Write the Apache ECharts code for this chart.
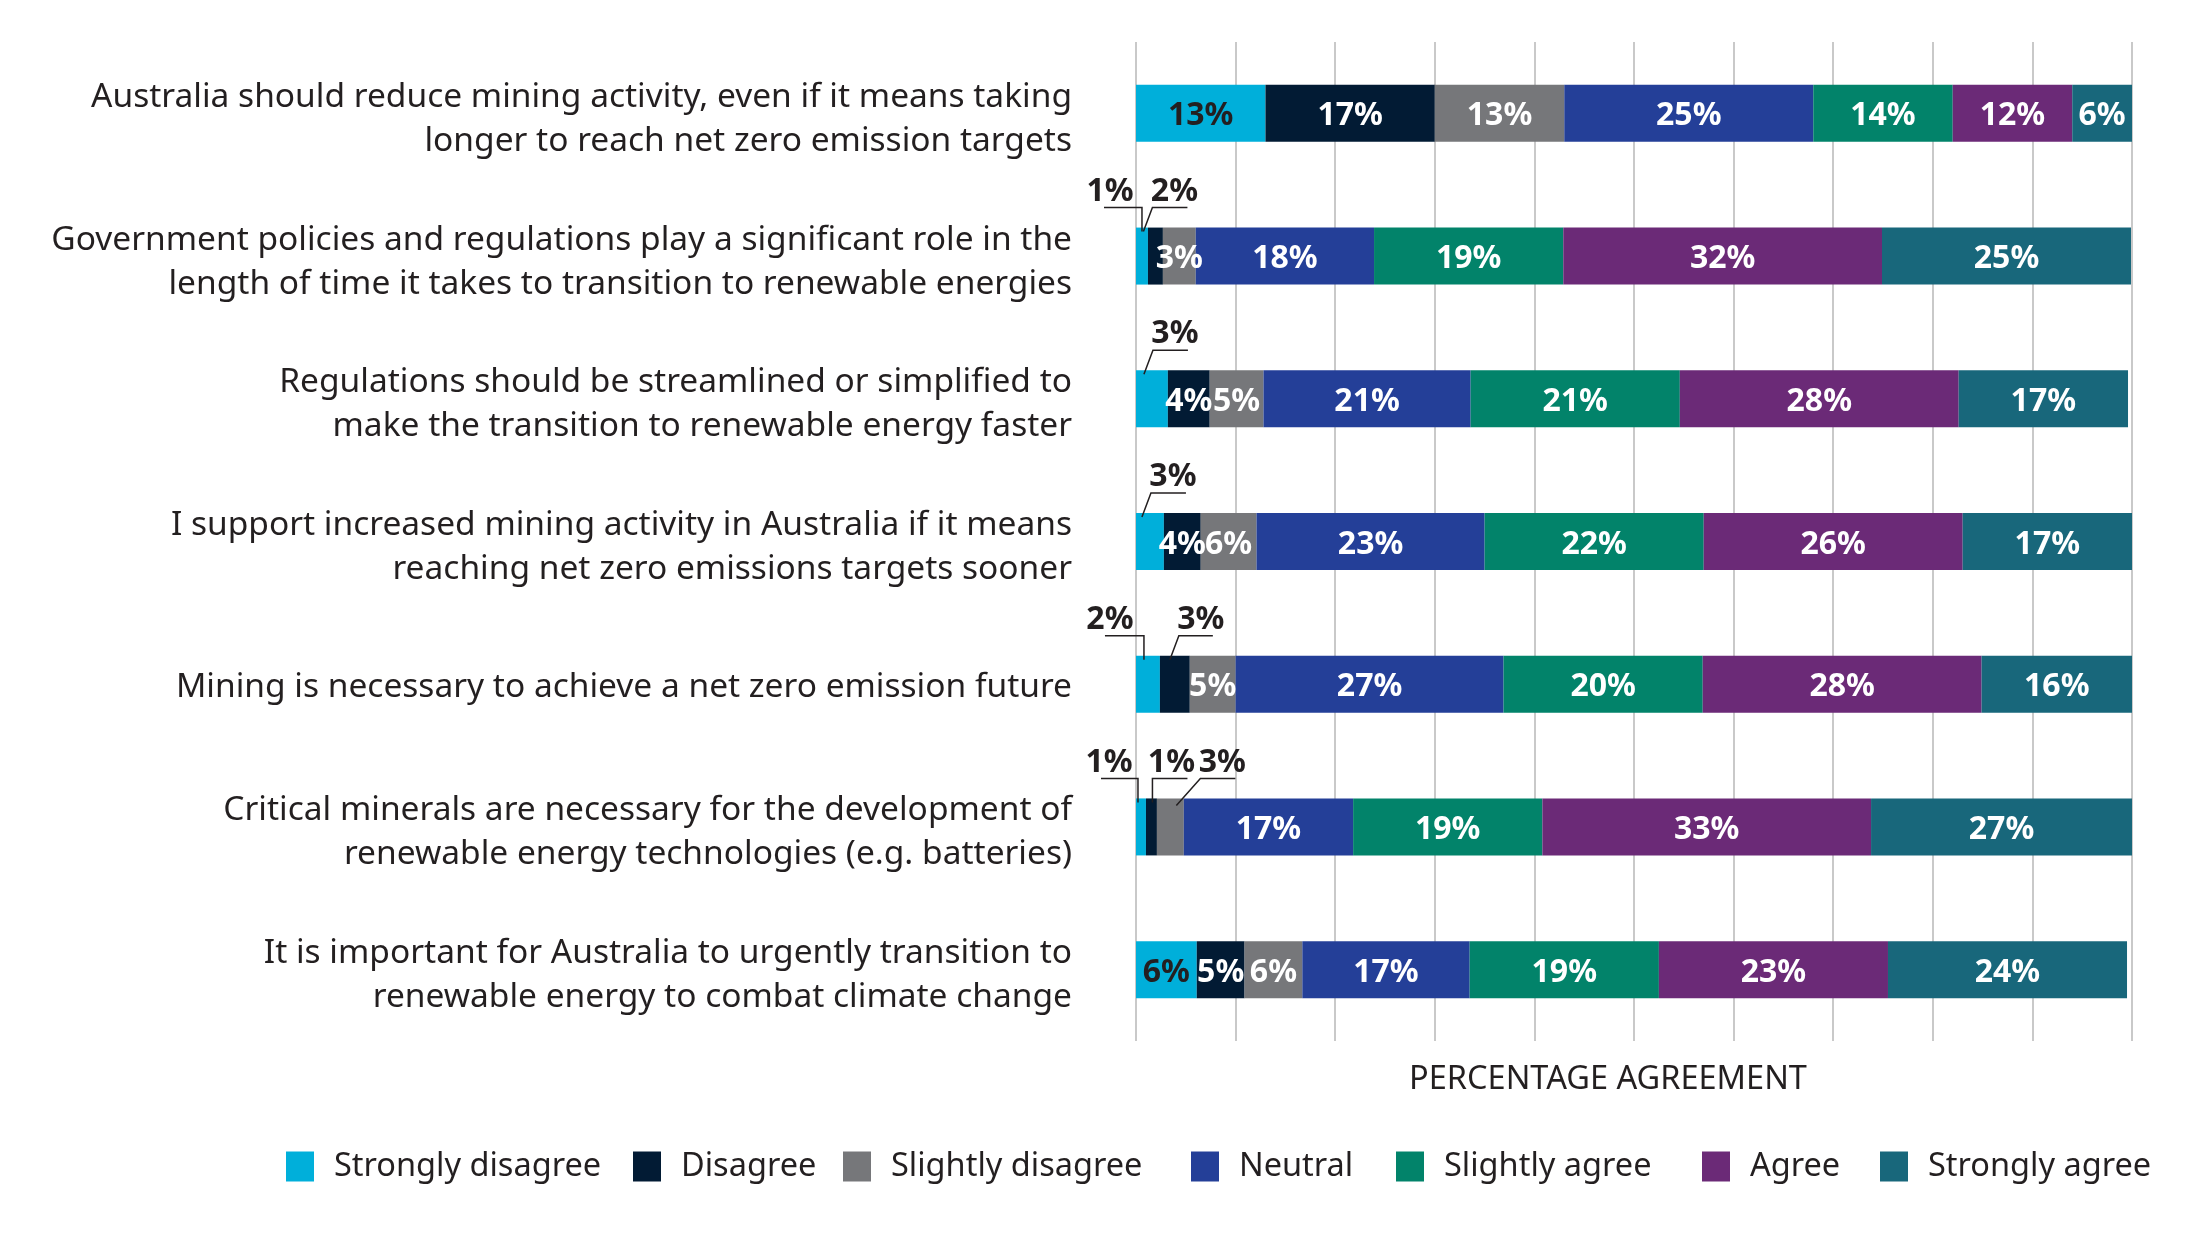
<!DOCTYPE html>
<html>
<head>
<meta charset="utf-8">
<script src="https://cdn.jsdelivr.net/npm/echarts@6/dist/echarts.min.js"></script>
<style>
  html, body { margin: 0; padding: 0; background: #fff; }
  #main { width: 2210px; height: 1233px; }
</style>
</head>
<body>
<div id="main"></div>
<script>
// statements, top to bottom
const categories = [
  'Australia should reduce mining activity, even if it means taking\nlonger to reach net zero emission targets',
  'Government policies and regulations play a significant role in the\nlength of time it takes to transition to renewable energies',
  'Regulations should be streamlined or simplified to\nmake the transition to renewable energy faster',
  'I support increased mining activity in Australia if it means\nreaching net zero emissions targets sooner',
  'Mining is necessary to achieve a net zero emission future',
  'Critical minerals are necessary for the development of\nrenewable energy technologies (e.g. batteries)',
  'It is important for Australia to urgently transition to\nrenewable energy to combat climate change'
]

const seriesNames = ['Strongly disagree', 'Disagree', 'Slightly disagree', 'Neutral', 'Slightly agree', 'Agree', 'Strongly agree']

// % per statement (bar lengths, labels are rounded)
const stronglyDisagree = [13, 1.2, 3.2, 2.8, 2.4, 1.0, 6.1]
const disagree         = [17, 1.5, 4.2, 3.7, 3.0, 1.1, 4.8]
const slightlyDisagree = [13, 3.3, 5.4, 5.6, 4.6, 2.7, 5.8]
const neutral          = [25, 17.9, 20.8, 22.9, 26.9, 17, 16.8]
const slightlyAgree    = [14, 19, 21, 22, 20, 19, 19]
const agree            = [12, 32, 28, 26, 28, 33, 23]
const stronglyAgree    = [6, 25, 17, 17, 16, 27, 24]

const xTicks = [0, 10, 20, 30, 40, 50, 60, 70, 80, 90, 100]

const allValues = [stronglyDisagree, disagree, slightlyDisagree, neutral, slightlyAgree, agree, stronglyAgree]
const colors = ['#00afda', '#021b34', '#76777a', '#243f98', '#02836a', '#6b2a77', '#18677b']

// legend swatch x positions (the gaps are uneven in the original)
const legendLeft = [286, 633, 843, 1191, 1396, 1702, 1880]

// segments too thin for an inside label -> label sits above with a leader line
// s = series, c = category, x0/x1/x2 = line points relative to segment centre, lx = label centre
const callouts = [
  { s: 0, c: 1, x0: 0,  x1: 0,  x2: -38, lx: -32 },
  { s: 1, c: 1, x0: -12, x1: -3, x2: 32, lx: 19 },
  { s: 0, c: 2, x0: -8, x1: 1,  x2: 36,  lx: 23 },
  { s: 0, c: 3, x0: -8, x1: 1,  x2: 36,  lx: 23 },
  { s: 0, c: 4, x0: -4, x1: -4, x2: -43, lx: -38 },
  { s: 1, c: 4, x0: -5, x1: 4,  x2: 38,  lx: 26 },
  { s: 0, c: 5, x0: -3, x1: -3, x2: -40, lx: -32 },
  { s: 1, c: 5, x0: 1,  x1: 1,  x2: 36,  lx: 20 },
  { s: 2, c: 5, x0: 6,  x1: 30, x2: 65,  lx: 52, y0: 7 }
]

const FONT = '"Noto Sans", "Open Sans", sans-serif'
const TEXT = '#231f20'
const BAR = 57

function isCallout(s, c) {
  return callouts.some(o => o.s === s && o.c === c)
}

// start of a segment = sum of the segments before it
function segStart(s, c) {
  let sum = 0
  for (let i = 0; i < s; i++) sum += allValues[i][c]
  return sum
}

const pct = v => Math.round(v) + '%'

const barSeries = seriesNames.map((name, s) => ({
  name: name,
  type: 'bar',
  stack: 'total',
  barWidth: BAR,
  itemStyle: { color: colors[s] },
  label: {
    show: true,
    position: 'inside',
    offset: [0, 3],
    color: s === 0 ? TEXT : '#fff',
    fontFamily: FONT,
    fontWeight: 'bold',
    fontSize: 32,
    formatter: p => pct(p.value)
  },
  data: allValues[s].map((v, c) => ({
    value: v,
    label: { show: !isCallout(s, c) }
  }))
}))

const calloutSeries = {
  type: 'custom',
  z: 10,
  silent: true,
  data: callouts.map(o => [segStart(o.s, o.c) + allValues[o.s][o.c] / 2, o.c]),
  renderItem: function (params, api) {
    const o = callouts[params.dataIndex]
    const p = api.coord([api.value(0), api.value(1)])
    const cx = p[0]
    const top = p[1] - BAR / 2
    const lineY = top - 20
    return {
      type: 'group',
      children: [
        {
          type: 'polyline',
          shape: { points: [[cx + o.x0, top + (o.y0 || 4)], [cx + o.x1, lineY], [cx + o.x2, lineY]] },
          style: { stroke: TEXT, lineWidth: 1.5, fill: null }
        },
        {
          type: 'text',
          x: cx + o.lx,
          y: lineY,
          style: {
            text: pct(allValues[o.s][o.c]),
            fill: TEXT,
            font: 'bold 32px ' + FONT,
            align: 'center',
            verticalAlign: 'bottom'
          }
        }
      ]
    }
  }
}

// one legend per item so each swatch sits where it does in the original
const legends = seriesNames.map((name, i) => ({
  data: [name],
  left: legendLeft[i],
  top: 1150,
  padding: 0,
  itemWidth: 28,
  itemHeight: 30,
  icon: 'rect',
  selectedMode: false,
  textStyle: { fontSize: 32.5, color: TEXT, fontFamily: FONT, padding: [0, 0, 0, 15] }
}))

// two-line statements sit a little below the bar centre
const labelStyle = { fontSize: 33.5, color: TEXT, fontFamily: FONT }

const chart = echarts.init(document.getElementById('main'))

chart.setOption({
  backgroundColor: '#fff',
  animation: false,
  textStyle: { fontFamily: FONT },
  grid: { left: 1136, right: 78, top: 42, height: 999 },
  legend: legends,
  xAxis: {
    type: 'value',
    min: xTicks[0],
    max: xTicks[xTicks.length - 1],
    interval: xTicks[1] - xTicks[0],
    name: 'PERCENTAGE AGREEMENT',
    nameLocation: 'middle',
    nameGap: 22,
    nameTextStyle: { fontSize: 32.5, color: TEXT, fontFamily: FONT, verticalAlign: 'top', padding: [0, 52, 0, 0] },
    axisLine: { show: false },
    axisTick: { show: false },
    axisLabel: { show: false },
    splitLine: { lineStyle: { color: '#c9c9c9', width: 2 } }
  },
  yAxis: {
    type: 'category',
    inverse: true,
    data: categories,
    axisLine: { show: false },
    axisTick: { show: false },
    axisLabel: {
      margin: 64,
      fontSize: 33.5,
      color: TEXT,
      fontFamily: FONT,
      align: 'right',
      formatter: function (value) {
        const lines = value.split('\n')
        if (lines.length === 1) return '{s|' + value + '}'
        return '{a|' + lines[0] + '}\n{b|' + lines[1] + '}'
      },
      rich: {
        s: Object.assign({ lineHeight: 44, padding: [6, 0, 0, 0] }, labelStyle),
        a: Object.assign({ lineHeight: 56 }, labelStyle),
        b: Object.assign({ lineHeight: 32 }, labelStyle)
      }
    }
  },
  series: barSeries.concat([calloutSeries])
})
</script>
</body>
</html>
